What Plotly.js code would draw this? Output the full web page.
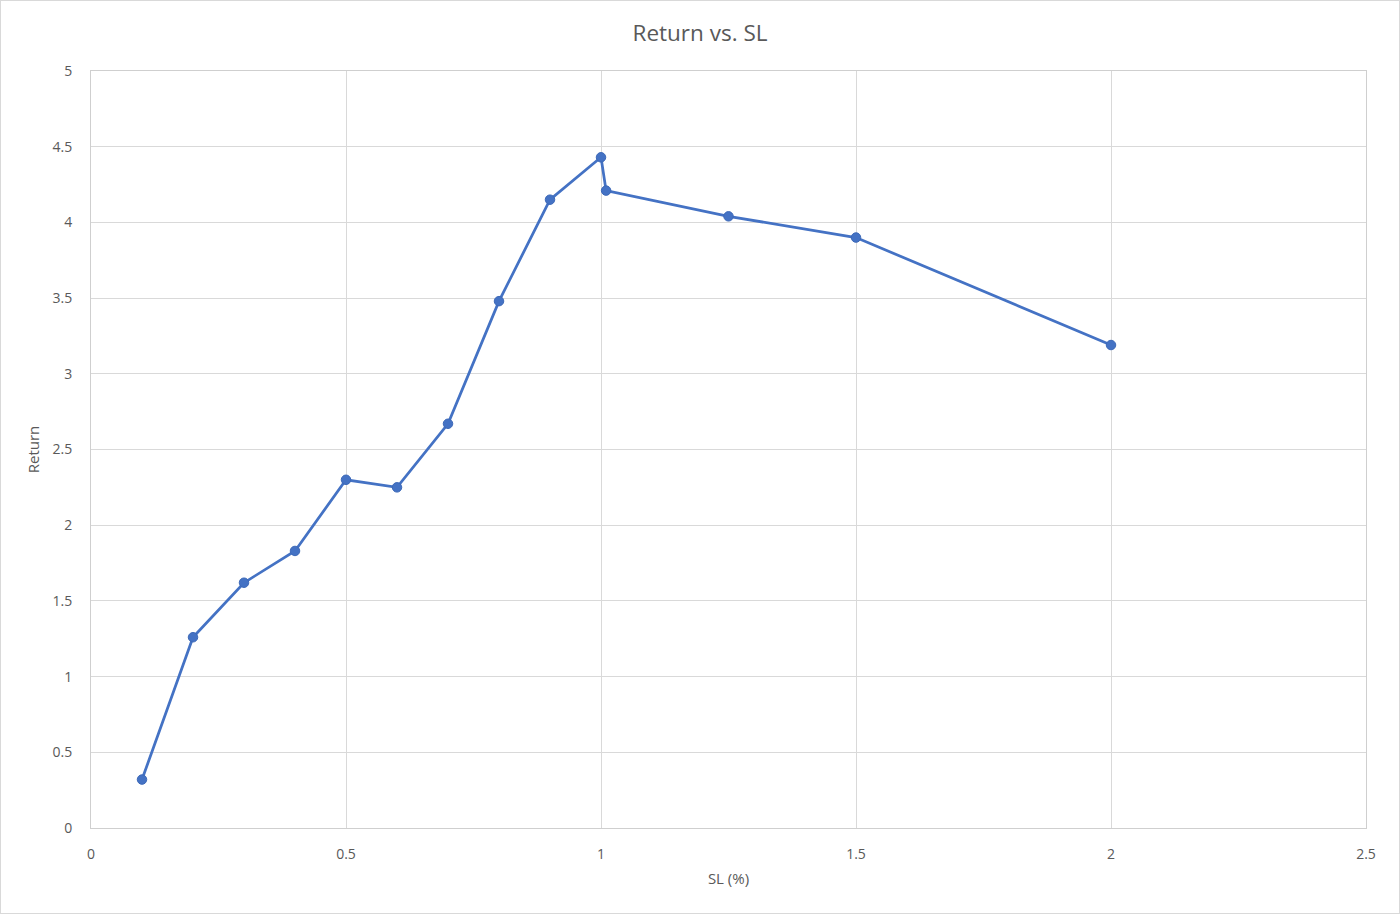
<!DOCTYPE html>
<html>
<head>
<meta charset="utf-8">
<script src="https://cdn.plot.ly/plotly-3.0.1.min.js"></script>
<style>
html,body{margin:0;padding:0;background:#fff;}
#wrap{width:1400px;height:914px;box-sizing:border-box;border:1px solid #d9d9d9;overflow:hidden;}
#chart{width:1398px;height:912px;}
</style>
</head>
<body>
<div id="wrap"><div id="chart"></div></div>
<script>
const slPercent = [0.1, 0.2, 0.3, 0.4, 0.5, 0.6, 0.7, 0.8, 0.9, 1.0, 1.01, 1.25, 1.5, 2.0];
const returns = [0.32, 1.26, 1.62, 1.83, 2.30, 2.25, 2.67, 3.48, 4.15, 4.43, 4.21, 4.04, 3.90, 3.19];
const xTicks = [0, 0.5, 1, 1.5, 2, 2.5];
const yTicks = [0, 0.5, 1, 1.5, 2, 2.5, 3, 3.5, 4, 4.5, 5];

const fontFam = '"Open Sans", "Noto Sans", "Liberation Sans", sans-serif';
const trace = {
  x: slPercent, y: returns, type: 'scatter', mode: 'lines+markers',
  line: {color: '#4472C4', width: 2.75},
  marker: {color: '#4472C4', size: 9.5, line: {color: '#3d69b8', width: 1}},
  hoverinfo: 'x+y'
};
const layout = {
  width: 1398, height: 912,
  margin: {l: 90, r: 33, t: 70, b: 85},
  paper_bgcolor: '#fff', plot_bgcolor: '#fff',
  showlegend: false,
  font: {family: fontFam, color: '#595959', size: 14},
  title: {text: 'Return vs. SL', x: 0.5, xanchor: 'center', y: 1 - 32/912, yanchor: 'middle',
          font: {family: fontFam, size: 22.5, color: '#595959'}},
  xaxis: {
    range: [0, 2.5], tickvals: xTicks, ticktext: xTicks.map(String),
    showgrid: true, gridcolor: '#d9d9d9', gridwidth: 1,
    showline: true, linecolor: '#cfcfcf', linewidth: 1, mirror: true,
    zeroline: false, ticks: 'outside', ticklen: 13, tickcolor: 'rgba(0,0,0,0)',
    tickfont: {size: 14, color: '#595959'},
    title: {text: 'SL (%)', standoff: 11, font: {size: 15, color: '#595959'}}
  },
  yaxis: {
    range: [0, 5], tickvals: yTicks, ticktext: yTicks.map(String),
    showgrid: true, gridcolor: '#d9d9d9', gridwidth: 1,
    showline: true, linecolor: '#cfcfcf', linewidth: 1, mirror: true,
    zeroline: false, ticks: 'outside', ticklen: 15, tickcolor: 'rgba(0,0,0,0)',
    tickfont: {size: 14, color: '#595959'},
    title: {text: 'Return', standoff: 9, font: {size: 15, color: '#595959'}}
  }
};
Plotly.newPlot('chart', [trace], layout, {displayModeBar: false, responsive: false});
</script>
</body>
</html>
